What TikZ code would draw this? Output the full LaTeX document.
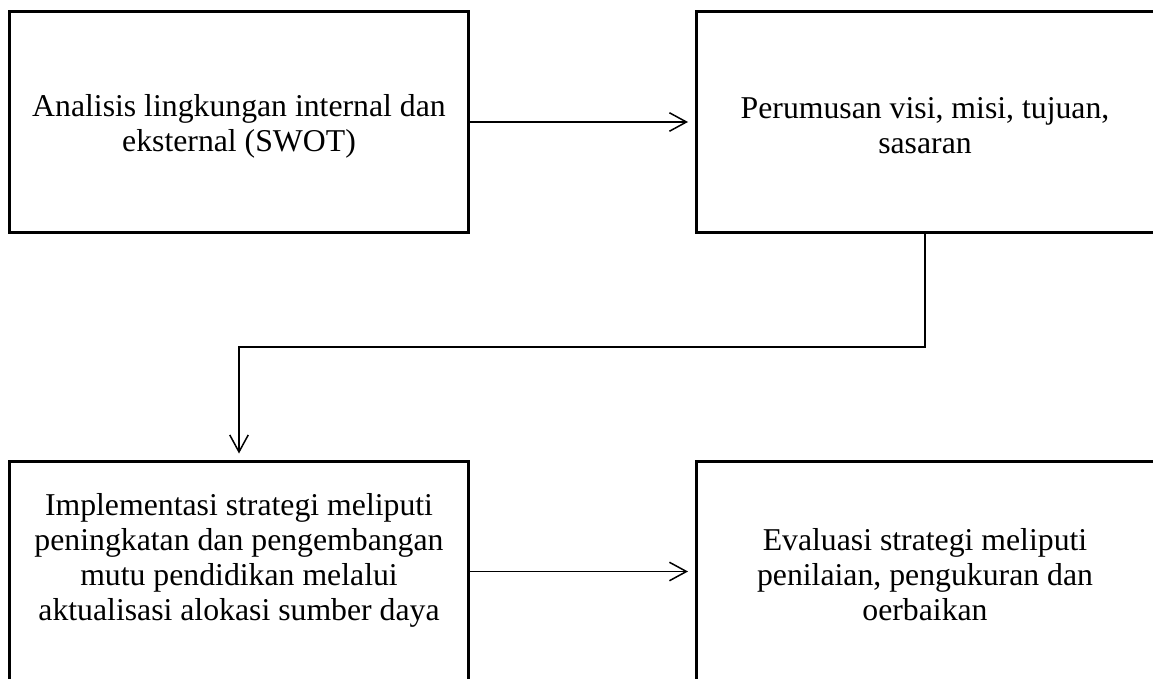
\documentclass[tikz,border=0pt]{standalone}
\usepackage{fontspec}
\setmainfont{Liberation Serif}
\usetikzlibrary{arrows.meta}
\begin{document}
\begin{tikzpicture}[x=0.4pt,y=-0.4pt,
  box/.style={draw=black, line width=1.2pt, minimum width=183.2pt, minimum height=88pt, inner sep=0pt},
  label/.style={align=center, font=\fontsize{12.7pt}{14pt}\selectfont, inner sep=0pt},
  arr/.style={draw=black, line width=0.6pt, -{Straight Barb[length=6.8pt,width=7.4pt,line width=0.6pt]}, shorten >=2.6pt}]
\clip (0,0) rectangle (1153,679);
\fill[white] (0,0) rectangle (1153,679);
\node[box] (tl) at (239,122) {};
\node[box] (tr) at (925,122) {};
\node[box] (bl) at (239,571.5) {};
\node[box] (br) at (925,571.5) {};
\node[label] (tlt) at (239,126) {Analisis lingkungan internal dan\\eksternal (SWOT)};
\node[label] (trt) at (925,126) {Perumusan visi, misi, tujuan,\\sasaran};
\node[label] (blt) at (239,560) {Implementasi strategi meliputi\\peningkatan dan pengembangan\\mutu pendidikan melalui\\aktualisasi alokasi sumber daya};
\node[label] (brt) at (925,575) {Evaluasi strategi meliputi\\penilaian, pengukuran dan\\oerbaikan};
\coordinate (mid) at (925,347);
\draw[arr] (tl.east) -- (tr.west);
\draw[arr] (bl.east) -- (br.west);
\draw[arr] (tr.south) -- (tr.south |- mid) -| (bl.north);
\end{tikzpicture}
\end{document}
